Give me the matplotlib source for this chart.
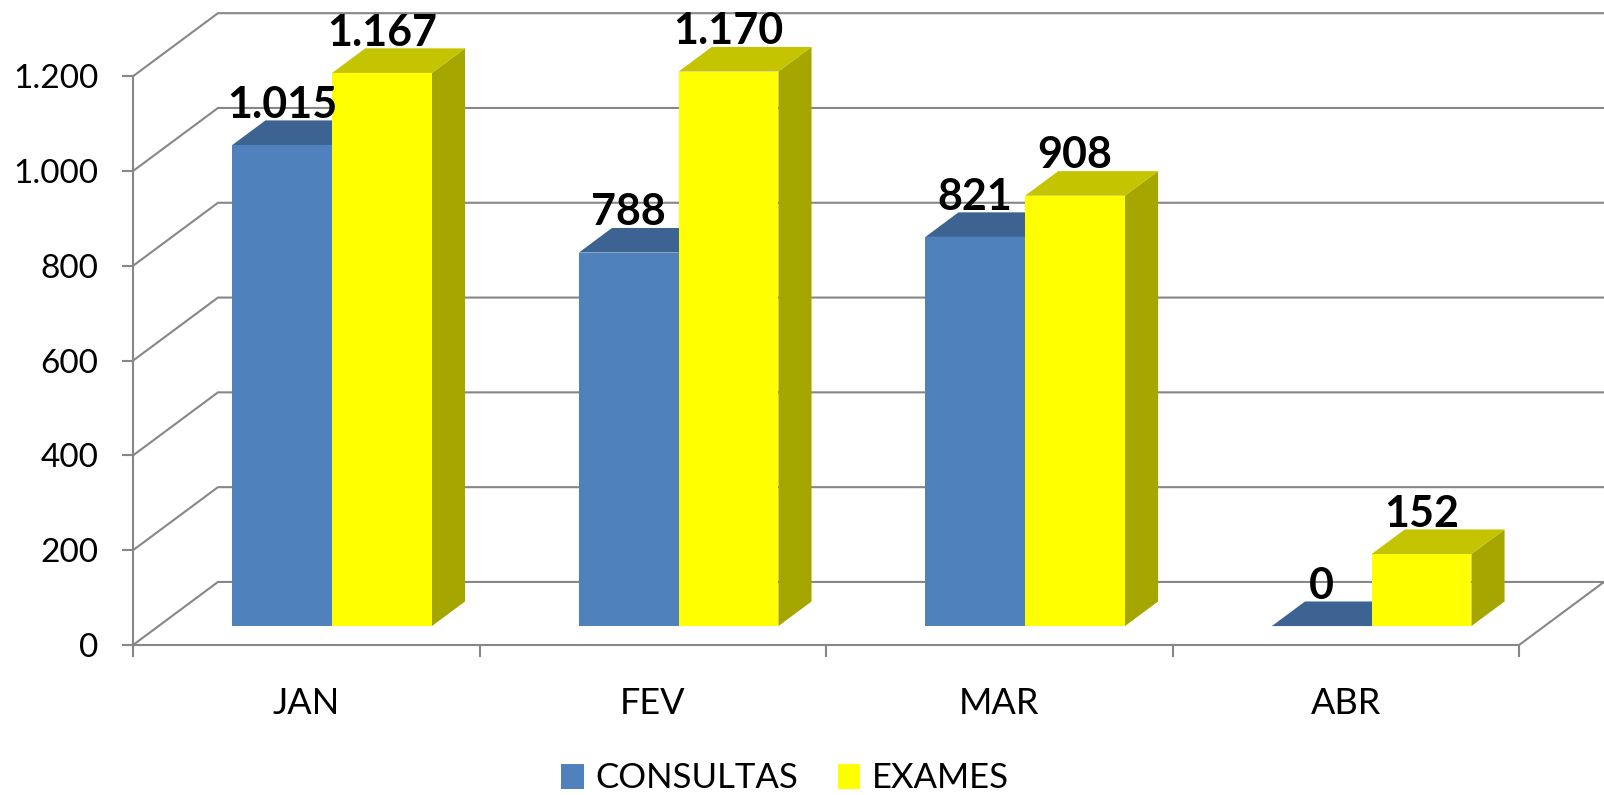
import matplotlib
matplotlib.use("Agg")
import matplotlib.pyplot as plt
from matplotlib.patches import Polygon, Patch

categories = ["JAN", "FEV", "MAR", "ABR"]
series_names = ["CONSULTAS", "EXAMES"]
consultas = [1015, 788, 821, 0]
exames = [1167, 1170, 908, 152]
y_ticks = [0, 200, 400, 600, 800, 1000, 1200]

front_colors = ["#4F81BD", "#FFFF00"]
top_colors = ["#3C6391", "#C4C400"]
side_colors = ["#3A5F8C", "#A6A600"]
grid_color = "#878787"

plt.rcParams['font.family'] = ['Lato', 'DejaVu Sans']

fig = plt.figure(figsize=(16.04, 7.95), dpi=100)
ax = fig.add_axes([0, 0, 1, 1])
ax.set_xlim(-0.384, 4.245)
ax.set_ylim(-316.5, 1360.8)

# depth offsets (full depth of the floor)
DX, DY = 0.245, 133.0
d0, d1 = 0.30, 0.69          # bar depth range (fraction of full depth)
gap, w = 0.213, 0.288         # gap at category side, bar width

def fmt(v):
    return f"{v:,}".replace(",", ".")

# gridlines on left wall and back wall
xmax = ax.get_xlim()[1]
for v in y_ticks:
    ax.plot([0, DX, xmax], [v, v + DY, v + DY], color=grid_color, lw=1.5,
            zorder=1, solid_capstyle='butt')
# floor right edge
n = len(categories)
ax.plot([n, n + DX], [0, DY], color=grid_color, lw=1.5, zorder=1)

# bars
for i in range(n):
    for s, vals in enumerate([consultas, exames]):
        v = vals[i]
        x0 = i + gap + s * w
        ax0, ay0 = x0 + d0 * DX, d0 * DY
        ax1, ay1 = x0 + d1 * DX, d1 * DY
        z = 3 + i * 3 + s
        # side
        ax.add_patch(Polygon([(ax0 + w, ay0), (ax1 + w, ay1), (ax1 + w, ay1 + v),
                              (ax0 + w, ay0 + v)], closed=True,
                             facecolor=side_colors[s], edgecolor='none', zorder=z))
        # front
        ax.add_patch(Polygon([(ax0, ay0), (ax0 + w, ay0), (ax0 + w, ay0 + v),
                              (ax0, ay0 + v)], closed=True,
                             facecolor=front_colors[s], edgecolor='none', zorder=z + 0.5))
        # top
        ax.add_patch(Polygon([(ax0, ay0 + v), (ax0 + w, ay0 + v), (ax1 + w, ay1 + v),
                              (ax1, ay1 + v)], closed=True,
                             facecolor=top_colors[s], edgecolor='none', zorder=z + 0.5))
        ax.text(ax0 + w / 2, ay1 + v + 6, fmt(v), ha='center', va='baseline',
                fontsize=31, fontweight='bold', color='black', zorder=50)

# axes / spines
for side in ['top', 'right']:
    ax.spines[side].set_visible(False)
ax.spines['left'].set_position(('data', 0))
ax.spines['bottom'].set_position(('data', 0))
ax.spines['left'].set_bounds(0, y_ticks[-1])
ax.spines['bottom'].set_bounds(0, n)
for side in ['left', 'bottom']:
    ax.spines[side].set_color(grid_color)
    ax.spines[side].set_linewidth(1.5)
    ax.spines[side].set_zorder(2)

ax.set_yticks(y_ticks)
ax.set_yticklabels([fmt(v) for v in y_ticks])
ax.tick_params(axis='y', direction='out', length=8, width=1.5, color=grid_color,
               labelsize=24, pad=17)
ax.set_xticks(range(n + 1))
ax.set_xticklabels([])
ax.tick_params(axis='x', which='major', direction='out', length=8.5, width=1.5,
               color=grid_color)
ax.set_xticks([i + 0.5 for i in range(n)], minor=True)
ax.set_xticklabels(categories, minor=True)
ax.tick_params(axis='x', which='minor', length=0, labelsize=26, pad=30)
ax.patch.set_visible(False)

handles = [Patch(facecolor=front_colors[0], edgecolor='none', label=series_names[0]),
           Patch(facecolor=front_colors[1], edgecolor='none', label=series_names[1])]
fig.legend(handles=handles, loc='lower center', bbox_to_anchor=(785 / 1604, 0.5 / 795),
           ncol=2, frameon=False, fontsize=25, handlelength=0.64, handleheight=0.73,
           handletextpad=0.33, columnspacing=1.15, borderpad=0, borderaxespad=0)

fig.savefig("out.png", dpi=100, facecolor='white')
